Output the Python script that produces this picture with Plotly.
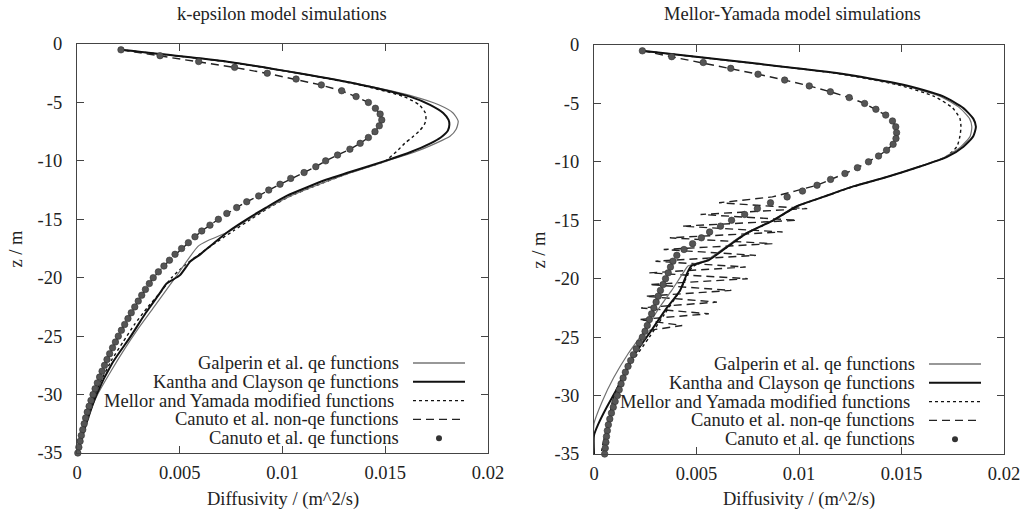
import plotly.graph_objects as go

W, H = 1033, 514

# ------------------------------------------------------------------ data
panel_titles = ["k-epsilon model simulations", "Mellor-Yamada model simulations"]
x_title = "Diffusivity / (m^2/s)"
y_title = "z / m"
legend_labels = ["Galperin et al. qe functions",
                 "Kantha and Clayson qe functions",
                 "Mellor and Yamada modified functions ",
                 "Canuto et al. non-qe functions",
                 "Canuto et al. qe functions"]
x_tick_vals = [0, 0.005, 0.01, 0.015, 0.02]
x_tick_text = ["0", "0.005", "0.01", "0.015", "0.02"]
y_tick_vals = [-35, -30, -25, -20, -15, -10, -5, 0]
y_tick_text = ["-35", "-30", "-25", "-20", "-15", "-10", "-5", "0"]

# depth grid of the Canuto et al. profiles (every 0.5 m)
canuto_z = [-0.5, -1.0, -1.5, -2.0, -2.5, -3.0, -3.5, -4.0, -4.5, -5.0,
            -5.5, -6.0, -6.5, -7.0, -7.5, -8.0, -8.5, -9.0, -9.5, -10.0,
            -10.5, -11.0, -11.5, -12.0, -12.5, -13.0, -13.5, -14.0, -14.5, -15.0,
            -15.5, -16.0, -16.5, -17.0, -17.5, -18.0, -18.5, -19.0, -19.5, -20.0,
            -20.5, -21.0, -21.5, -22.0, -22.5, -23.0, -23.5, -24.0, -24.5, -25.0,
            -25.5, -26.0, -26.5, -27.0, -27.5, -28.0, -28.5, -29.0, -29.5, -30.0,
            -30.5, -31.0, -31.5, -32.0, -32.5, -33.0, -33.5, -34.0, -34.5, -35.0]

# ---- k-epsilon panel
ke_canuto_qe = [0.00214, 0.00404, 0.00592, 0.00767, 0.00926, 0.01066, 0.01189, 0.01288, 0.01358, 0.01418,
                0.01452, 0.01475, 0.01483, 0.01471, 0.01450, 0.01418, 0.01378, 0.01328, 0.01268, 0.01210,
                0.01162, 0.01105, 0.01040, 0.00988, 0.00933, 0.00884, 0.00826, 0.00777, 0.00729, 0.00688,
                0.00647, 0.00607, 0.00574, 0.00542, 0.00509, 0.00477, 0.00450, 0.00423, 0.00396, 0.00371,
                0.00352, 0.00333, 0.00315, 0.00298, 0.00281, 0.00264, 0.00248, 0.00232, 0.00216, 0.00201,
                0.00187, 0.00173, 0.00159, 0.00146, 0.00134, 0.00122, 0.00110, 0.00099, 0.00088, 0.00078,
                0.00068, 0.00059, 0.00050, 0.00042, 0.00035, 0.00028, 0.00021, 0.00015, 0.00009, 0.00004]
ke_canuto_nonqe = [0.00214, 0.00400, 0.00588, 0.00763, 0.00922, 0.01062, 0.01186, 0.01286, 0.01357, 0.01417,
                   0.01452, 0.01475, 0.01483, 0.01471, 0.01450, 0.01418, 0.01378, 0.01328, 0.01268, 0.01210,
                   0.01162, 0.01105, 0.01040, 0.00988, 0.00933, 0.00884, 0.00826, 0.00777, 0.00729, 0.00688,
                   0.00647, 0.00607, 0.00574, 0.00542, 0.00509, 0.00477, 0.00450, 0.00423, 0.00396, 0.00371,
                   0.00352, 0.00333, 0.00315, 0.00298, 0.00281, 0.00264, 0.00248, 0.00232, 0.00216, 0.00201,
                   0.00187, 0.00173, 0.00159, 0.00146, 0.00134, 0.00122, 0.00110, 0.00099, 0.00088, 0.00078,
                   0.00068, 0.00059, 0.00050, 0.00042, 0.00035, 0.00028, 0.00021, 0.00015, 0.00009, 0.00004]

ke_galperin_z = [-0.5, -1.5, -2.5, -3.5, -4.5, -5.2, -5.9, -6.6, -7.3, -7.9, -8.5, -9.2, -10.0, -11.0,
                 -12.0, -13.0, -14.0, -15.0, -16.0, -16.8, -17.3, -20.0, -22.5, -24.5, -26.0, -28.0,
                 -30.0, -32.0, -34.0, -35.0]
ke_galperin_x = [0.00214, 0.00728, 0.01080, 0.01390, 0.01640, 0.01760, 0.01830, 0.01855, 0.01845, 0.01815,
                 0.01745, 0.01650, 0.01510, 0.01335, 0.01180, 0.01040, 0.00930, 0.00835, 0.00745, 0.00640,
                 0.00590, 0.00478, 0.00375, 0.00292, 0.00235, 0.00165, 0.00100, 0.00052, 0.00016, 0.00003]

ke_kantha_z = [-0.5, -1.5, -2.5, -3.5, -4.5, -5.2, -5.9, -6.5, -6.9, -7.4, -8.0, -8.5, -9.2, -10.0,
               -11.0, -11.6, -13.0, -14.0, -15.0, -16.0, -17.0, -18.0, -18.6, -19.8, -20.5, -21.3,
               -23.0, -25.0, -27.3, -30.0, -32.5, -35.0]
ke_kantha_x = [0.00214, 0.00725, 0.01080, 0.01385, 0.01620, 0.01718, 0.01782, 0.01808, 0.01812, 0.01805,
               0.01770, 0.01720, 0.01630, 0.01500, 0.01320, 0.01215, 0.01020, 0.00920, 0.00826, 0.00740,
               0.00668, 0.00600, 0.00552, 0.00500, 0.00436, 0.00404, 0.00335, 0.00262, 0.00172, 0.00095,
               0.00045, 0.00003]

ke_mellor_z = [-0.5, -1.5, -2.5, -3.5, -4.5, -5.2, -5.9, -6.5, -6.9, -7.4, -8.0, -8.5, -9.2, -10.0,
               -11.0, -12.0, -13.0, -14.0, -15.0, -16.0, -17.0, -18.0, -19.0, -20.0, -21.3, -22.5,
               -24.0, -25.5, -27.0, -29.0, -31.0, -33.0, -35.0]
ke_mellor_x = [0.00214, 0.00720, 0.01075, 0.01375, 0.01590, 0.01665, 0.01695, 0.01698, 0.01690, 0.01668,
               0.01630, 0.01595, 0.01555, 0.01500, 0.01330, 0.01180, 0.01040, 0.00935, 0.00845, 0.00760,
               0.00675, 0.00595, 0.00520, 0.00460, 0.00404, 0.00345, 0.00280, 0.00224, 0.00170, 0.00112,
               0.00065, 0.00030, 0.00003]

# ---- Mellor-Yamada panel
my_canuto_qe = [0.00236, 0.00379, 0.00533, 0.00667, 0.00800, 0.00930, 0.01050, 0.01153, 0.01245, 0.01320,
                0.01375, 0.01423, 0.01456, 0.01472, 0.01476, 0.01473, 0.01459, 0.01427, 0.01388, 0.01339,
                0.01285, 0.01224, 0.01154, 0.01088, 0.01017, 0.00942, 0.00861, 0.00797, 0.00735, 0.00671,
                0.00617, 0.00564, 0.00524, 0.00481, 0.00439, 0.00404, 0.00385, 0.00373, 0.00362, 0.00349,
                0.00337, 0.00324, 0.00313, 0.00303, 0.00292, 0.00281, 0.00270, 0.00260, 0.00249, 0.00236,
                0.00221, 0.00206, 0.00192, 0.00179, 0.00166, 0.00153, 0.00142, 0.00132, 0.00123, 0.00114,
                0.00103, 0.00094, 0.00085, 0.00077, 0.00070, 0.00065, 0.00061, 0.00058, 0.00055, 0.00052]
my_canuto_nonqe = [0.00236, 0.00379, 0.00533, 0.00667, 0.00800, 0.00930, 0.01050, 0.01153, 0.01245, 0.01320,
                   0.01375, 0.01423, 0.01456, 0.01472, 0.01476, 0.01473, 0.01459, 0.01427, 0.01388, 0.01339,
                   0.01285, 0.01224, 0.01154, 0.01088,
                   0.00980, 0.00870, 0.00610, 0.01040, 0.00520, 0.00990, 0.00430, 0.00920, 0.00370, 0.00870,
                   0.00340, 0.00790, 0.00300, 0.00740, 0.00270, 0.00750, 0.00270, 0.00670, 0.00250, 0.00600,
                   0.00230, 0.00560, 0.00220, 0.00430, 0.00240, 0.00240,
                   0.00221, 0.00206, 0.00192, 0.00179, 0.00166, 0.00153, 0.00142, 0.00132, 0.00123, 0.00114,
                   0.00103, 0.00094, 0.00085, 0.00077, 0.00070, 0.00065, 0.00061, 0.00058, 0.00055, 0.00052]

my_galperin_z = [-0.5, -1.4, -2.4, -3.4, -4.4, -5.4, -6.3, -7.0, -7.8, -8.7, -9.6, -10.4, -11.3, -12.1,
                 -13.0, -13.8, -15.0, -16.1, -17.3, -18.4, -18.9, -19.5, -21.0, -22.5, -24.4, -26.4,
                 -28.5, -30.5, -32.4, -35.0]
my_galperin_x = [0.00236, 0.00690, 0.01175, 0.01495, 0.01690, 0.01785, 0.01832, 0.01843, 0.01835, 0.01790,
                 0.01710, 0.01585, 0.01425, 0.01262, 0.01115, 0.00985, 0.00870, 0.00740, 0.00640, 0.00550,
                 0.00460, 0.00435, 0.00379, 0.00318, 0.00249, 0.00167, 0.00095, 0.00040, 0.00000, 0.00000]

my_kantha_z = [-0.5, -1.4, -2.4, -3.4, -4.4, -5.4, -6.3, -7.0, -7.8, -8.7, -9.6, -10.4, -11.3, -12.1,
               -13.0, -13.8, -15.0, -16.1, -17.3, -18.4, -18.9, -19.5, -21.0, -22.5, -24.4, -26.7,
               -29.0, -31.0, -32.4, -33.4, -35.0]
my_kantha_x = [0.00236, 0.00695, 0.01184, 0.01509, 0.01704, 0.01802, 0.01850, 0.01863, 0.01850, 0.01802,
               0.01720, 0.01590, 0.01428, 0.01265, 0.01119, 0.00990, 0.00875, 0.00745, 0.00648, 0.00560,
               0.00475, 0.00455, 0.00420, 0.00355, 0.00281, 0.00190, 0.00125, 0.00062, 0.00022, 0.00000,
               0.00000]

my_mellor_z = [-0.5, -1.4, -2.4, -3.4, -4.4, -5.4, -6.3, -7.0, -7.8, -8.7, -9.6, -10.4, -11.3, -12.1,
               -13.0, -13.8, -15.0, -16.1, -17.3, -18.4, -19.0, -21.0, -23.0, -25.0, -27.0, -28.5,
               -30.5, -32.4, -34.0, -35.0]
my_mellor_x = [0.00236, 0.00690, 0.01170, 0.01480, 0.01660, 0.01750, 0.01785, 0.01790, 0.01785, 0.01770,
               0.01715, 0.01590, 0.01430, 0.01268, 0.01120, 0.00992, 0.00877, 0.00748, 0.00650, 0.00555,
               0.00480, 0.00420, 0.00345, 0.00270, 0.00190, 0.00135, 0.00090, 0.00069, 0.00045, 0.00035]

# ------------------------------------------------------------------ styles
FONT = "Liberation Serif, Times New Roman, Times, DejaVu Serif, serif"
FS = 18.5
TXT = "#222222"
AX = "#444444"
styles = [
    dict(color="#707070", width=1.2, dash="solid"),     # Galperin
    dict(color="#111111", width=2.0, dash="solid"),     # Kantha
    dict(color="#111111", width=1.4, dash="3px,3px"),   # Mellor modified
    dict(color="#222222", width=1.4, dash="8px,5px"),   # Canuto non-qe
]
DOT_COLOR = "#555555"

fig = go.Figure()

panels = [
    dict(xa="x", ya="y",
         lines=[(ke_galperin_x, ke_galperin_z), (ke_kantha_x, ke_kantha_z),
                (ke_mellor_x, ke_mellor_z), (ke_canuto_nonqe, canuto_z)],
         dots=ke_canuto_qe),
    dict(xa="x2", ya="y2",
         lines=[(my_galperin_x, my_galperin_z), (my_kantha_x, my_kantha_z),
                (my_mellor_x, my_mellor_z), (my_canuto_nonqe, canuto_z)],
         dots=my_canuto_qe),
]
order = [3, 2, 0, 1]  # draw dashed first, solid lines on top
for p in panels:
    for k in order:
        xs, zs = p["lines"][k]
        st = styles[k]
        shape = "linear" if k == 3 else "spline"
        fig.add_trace(go.Scatter(x=xs, y=zs, mode="lines", xaxis=p["xa"], yaxis=p["ya"],
                                 line=dict(color=st["color"], width=st["width"], dash=st["dash"],
                                           shape=shape, smoothing=0.6),
                                 showlegend=False, hoverinfo="skip", cliponaxis=True))
    fig.add_trace(go.Scatter(x=p["dots"], y=canuto_z, mode="markers", xaxis=p["xa"], yaxis=p["ya"],
                             marker=dict(symbol="circle", size=6.5, color=DOT_COLOR,
                                         line=dict(color="#333333", width=0.6)),
                             showlegend=False, hoverinfo="skip", cliponaxis=False))

# ------------------------------------------------------------------ layout
def px_x(px):
    return px / W

def px_y(py):
    return 1 - py / H

boxes = [dict(l=77, r=488, t=44, b=453), dict(l=594, r=1004, t=45, b=454)]

axis_common = dict(showline=True, mirror="ticks", linecolor=AX, linewidth=1.2,
                   ticks="inside", ticklen=7, tickwidth=1.2, tickcolor=AX,
                   showgrid=False, zeroline=False, automargin=False,
                   tickfont=dict(family=FONT, size=FS, color=TXT))

layout = dict(template="none", width=W, height=H, autosize=False,
              margin=dict(l=0, r=0, t=0, b=0, pad=0),
              paper_bgcolor="white", plot_bgcolor="white", showlegend=False,
              font=dict(family=FONT, size=FS, color=TXT))
for i, b in enumerate(boxes):
    sx = "" if i == 0 else "2"
    layout["xaxis" + sx] = dict(axis_common, domain=[px_x(b["l"]), px_x(b["r"])],
                                range=[0, 0.02], tickvals=x_tick_vals, ticktext=x_tick_text,
                                anchor="y" + sx, ticklabelstandoff=3)
    layout["yaxis" + sx] = dict(axis_common, domain=[px_y(b["b"]), px_y(b["t"])],
                                range=[-35, 0], tickvals=y_tick_vals, ticktext=y_tick_text,
                                anchor="x" + sx, ticklabelstandoff=10)
fig.update_layout(**layout)

ann = []
shapes = []
title_cx = [282, 792]
ytitle_cx = [15, 538]
for i, b in enumerate(boxes):
    cx = (b["l"] + b["r"]) / 2
    ann.append(dict(text=panel_titles[i], x=px_x(title_cx[i]), y=px_y(14), xref="paper", yref="paper",
                    xanchor="center", yanchor="middle", showarrow=False,
                    font=dict(family=FONT, size=FS, color=TXT)))
    ann.append(dict(text=x_title, x=px_x(cx), y=px_y(499), xref="paper", yref="paper",
                    xanchor="center", yanchor="middle", showarrow=False,
                    font=dict(family=FONT, size=FS, color=TXT)))
    ann.append(dict(text=y_title, x=px_x(ytitle_cx[i]), y=px_y((b["t"] + b["b"]) / 2),
                    xref="paper", yref="paper", xanchor="center", yanchor="middle",
                    textangle=-90, showarrow=False, font=dict(family=FONT, size=FS, color=TXT)))
    # gnuplot-style key: text right-aligned, sample to the right
    text_right = b["r"] - 87
    s0, s1 = b["r"] - 75, b["r"] - 23
    row0 = b["b"] - 90
    for j, lab in enumerate(legend_labels):
        ry = row0 + j * 18.8
        ann.append(dict(text=lab, x=px_x(text_right), y=px_y(ry), xref="paper", yref="paper",
                        xanchor="right", yanchor="middle", showarrow=False,
                        font=dict(family=FONT, size=FS, color=TXT)))
        if j < 4:
            st = styles[j]
            shapes.append(dict(type="line", xref="paper", yref="paper",
                               x0=px_x(s0), x1=px_x(s1), y0=px_y(ry), y1=px_y(ry),
                               line=dict(color=st["color"] if j else "#333333",
                                         width=st["width"], dash=st["dash"])))
        else:
            cxp = (s0 + s1) / 2
            shapes.append(dict(type="circle", xref="paper", yref="paper",
                               xsizemode="pixel", ysizemode="pixel",
                               xanchor=px_x(cxp), yanchor=px_y(ry),
                               x0=-3, x1=3, y0=-3, y1=3,
                               fillcolor="#333333", line=dict(color="#333333", width=0)))

fig.update_layout(annotations=ann, shapes=shapes)
fig.write_html("out.html")
